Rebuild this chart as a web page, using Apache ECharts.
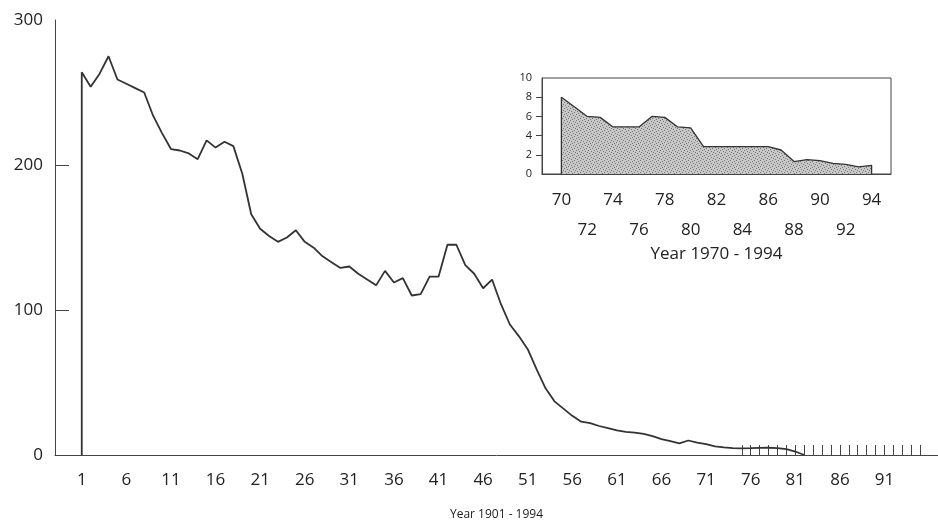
<!DOCTYPE html>
<html>
<head>
<meta charset="utf-8">
<script src="https://cdn.jsdelivr.net/npm/echarts@6/dist/echarts.min.js"></script>
<style>
  html, body { margin: 0; padding: 0; background: #fff; }
  #chart { width: 938px; height: 529px; }
</style>
</head>
<body>
<div id="chart"></div>
<script>
// main series: counts per year, 1901 (=1) .. 1982 (=82)
var years = [];
for (var y = 1; y <= 82; y++) years.push(y);
var counts = [
  264, 254, 263, 275, 259, 256, 253, 250, 234, 222,
  211, 210, 208, 204, 217, 212, 216, 213, 194, 166,
  156, 151, 147, 150, 155, 147, 143, 137, 133, 129,
  130, 125, 121, 117, 127, 119, 122, 110, 111, 123,
  123, 145, 145, 131, 125, 115, 121, 104, 90, 82,
  73, 59, 46, 37, 32, 27, 23, 22, 20, 18.5,
  17, 16, 15.5, 14.5, 13, 11, 9.5, 8, 10, 8.5,
  7.5, 6, 5.3, 4.8, 4.6, 4.7, 4.9, 5, 4.7, 4,
  2.4, 0
];
var mainLabelYears = [1, 6, 11, 16, 21, 26, 31, 36, 41, 46, 51, 56, 61, 66, 71, 76, 81, 86, 91];
var mainFirstCat = -2;   // blank room between y axis and year 1
var mainLastCat = 97;
var mainTickFrom = 75;
var mainTickTo = 95;

// inset: 1970 - 1994
var insetYears = [70, 71, 72, 73, 74, 75, 76, 77, 78, 79, 80, 81, 82,
                  83, 84, 85, 86, 87, 88, 89, 90, 91, 92, 93, 94];
var insetValues = [8, 7, 6, 5.9, 4.9, 4.9, 4.9, 6, 5.9, 4.9, 4.8, 2.85, 2.85,
                   2.85, 2.85, 2.85, 2.85, 2.5, 1.3, 1.5, 1.4, 1.1, 1.0, 0.75, 0.9];
var insetFirstCat = 69;
var insetLastCat = 95;

var font = "'Open Sans', 'DejaVu Sans', sans-serif";
var ink = '#333';
var textInk = '#222';

function makeCats(from, to) {
  var out = [];
  for (var i = from; i <= to; i++) out.push(String(i));
  return out;
}

// outline the area down to zero at both ends, like the printed chart
function closedPairs(xs, vals, closeEnd) {
  var data = [[String(xs[0]), 0]];
  for (var i = 0; i < xs.length; i++) data.push([String(xs[i]), vals[i]]);
  if (closeEnd) data.push([String(xs[xs.length - 1]), 0]);
  return data;
}

function stipple() {
  var c = document.createElement('canvas');
  c.width = 6;
  c.height = 6;
  var g = c.getContext('2d');
  g.fillStyle = '#c8c8c8';
  g.fillRect(0, 0, 6, 6);
  g.fillStyle = '#777';
  [[0, 0], [3, 1], [1, 3], [4, 4], [2, 5], [5, 2]].forEach(function (p) {
    g.fillRect(p[0], p[1], 1, 1);
  });
  return c;
}

var chart = echarts.init(document.getElementById('chart'));
chart.setOption({
  animation: false,
  textStyle: { fontFamily: font },
  grid: [
    { left: 55, right: 0, top: 20, bottom: 74 },
    { left: 542, top: 78, width: 349, height: 96, show: true,
      borderColor: '#444', borderWidth: 1, backgroundColor: 'transparent' }
  ],
  xAxis: [
    {
      type: 'category',
      gridIndex: 0,
      data: makeCats(mainFirstCat, mainLastCat),
      boundaryGap: false,
      axisLine: { lineStyle: { color: '#444', width: 1 } },
      axisTick: {
        show: true,
        inside: true,
        length: 10,
        interval: function (i, v) { return +v >= mainTickFrom && +v <= mainTickTo; },
        lineStyle: { color: '#444' }
      },
      axisLabel: {
        interval: function (i, v) { return mainLabelYears.indexOf(+v) >= 0; },
        margin: 17,
        fontSize: 17,
        color: textInk
      },
      splitLine: { show: false },
      name: 'Year 1901 - 1994',
      nameLocation: 'middle',
      nameGap: 54,
      nameTextStyle: { fontSize: 12, color: textInk }
    },
    {
      type: 'category',
      gridIndex: 1,
      data: makeCats(insetFirstCat, insetLastCat),
      boundaryGap: true,
      axisLine: { lineStyle: { color: '#444', width: 1 } },
      axisTick: { show: false },
      axisLabel: {
        interval: function (i, v) { return +v >= 70 && +v <= 94 && +v % 2 === 0; },
        formatter: function (v) { return (+v - 70) % 4 === 0 ? v : '\n' + v; },
        lineHeight: 30,
        margin: 11,
        fontSize: 17,
        color: textInk
      },
      splitLine: { show: false },
      name: 'Year 1970 - 1994',
      nameLocation: 'middle',
      nameGap: 70,
      nameTextStyle: { fontSize: 17, color: textInk }
    }
  ],
  yAxis: [
    {
      type: 'value',
      gridIndex: 0,
      min: 0,
      max: 300,
      interval: 100,
      axisLine: { show: true, lineStyle: { color: '#444', width: 1 } },
      axisTick: { show: true, inside: true, length: 14, customValues: [100, 200],
                  lineStyle: { color: '#444' } },
      axisLabel: { margin: 12, fontSize: 17, color: textInk },
      splitLine: { show: false }
    },
    {
      type: 'value',
      gridIndex: 1,
      min: 0,
      max: 10,
      interval: 2,
      axisLine: { show: true, lineStyle: { color: '#444', width: 1 } },
      axisTick: { show: true, length: 6, customValues: [2, 4, 6, 8],
                  lineStyle: { color: '#444' } },
      axisLabel: { margin: 10, fontSize: 11, color: textInk },
      splitLine: { show: false }
    }
  ],
  series: [
    {
      type: 'line',
      xAxisIndex: 0,
      yAxisIndex: 0,
      data: closedPairs(years, counts, false),
      symbol: 'none',
      lineStyle: { color: ink, width: 1.8 }
    },
    {
      type: 'line',
      xAxisIndex: 1,
      yAxisIndex: 1,
      data: closedPairs(insetYears, insetValues, true),
      symbol: 'none',
      lineStyle: { color: ink, width: 1.3 },
      areaStyle: { color: { image: stipple(), repeat: 'repeat' }, opacity: 1 }
    }
  ]
});
</script>
</body>
</html>
